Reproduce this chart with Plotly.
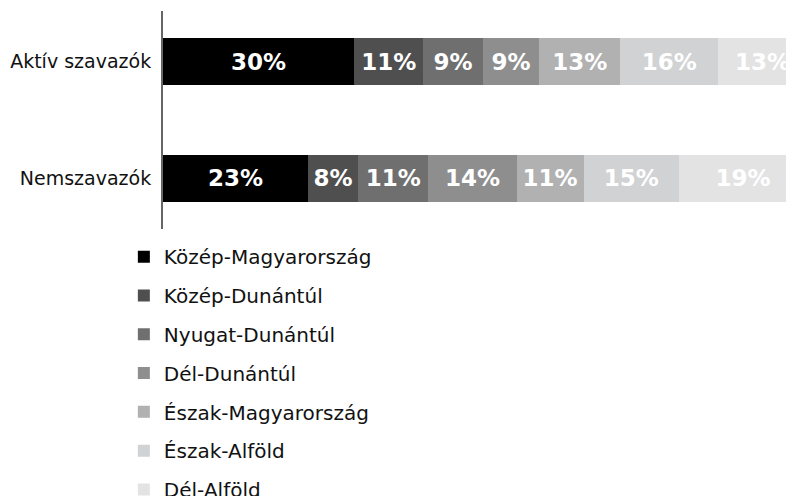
import plotly.graph_objects as go

categories = ["Nemszavazók", "Aktív szavazók"]
regions = ["Közép-Magyarország", "Közép-Dunántúl", "Nyugat-Dunántúl", "Dél-Dunántúl",
           "Észak-Magyarország", "Észak-Alföld", "Dél-Alföld"]
# values per region: [Nemszavazók, Aktív szavazók]
values = [
    [22.5, 29.7],
    [7.8, 10.7],
    [10.9, 9.3],
    [13.7, 8.7],
    [10.4, 12.6],
    [14.8, 15.2],
    [19.9, 13.8],
]
labels = [
    ["23%", "30%"],
    ["8%", "11%"],
    ["11%", "9%"],
    ["14%", "9%"],
    ["11%", "13%"],
    ["15%", "16%"],
    ["19%", "13%"],
]
colors = ["#000000", "#4f4f50", "#6f6f70", "#8e8e8f", "#b1b1b2", "#d1d2d3", "#e3e3e4"]

FONT = "DejaVu Sans"

fig = go.Figure()
for i, r in enumerate(regions):
    fig.add_trace(go.Bar(
        y=categories, x=values[i], name=r, orientation="h",
        marker=dict(color=colors[i], line=dict(width=0)),
        text=labels[i], textposition="inside", insidetextanchor="middle",
        textangle=0,
        textfont=dict(color="white", size=23, family=FONT, weight="bold"),
        constraintext="none", cliponaxis=True,
        legendgroup=r, hoverinfo="skip",
    ))

fig.update_layout(
    barmode="stack",
    width=799, height=496,
    margin=dict(l=155, r=0, t=3, b=275, autoexpand=False),
    paper_bgcolor="white", plot_bgcolor="white",
    bargap=0.6,
    font=dict(family=FONT, size=19, color="#111111"),
    showlegend=True,
    legend=dict(
        orientation="v", xref="container", yref="container",
        x=0.145, y=0.538, xanchor="left", yanchor="top",
        traceorder="grouped", tracegroupgap=9.8,
        maxheight=1000,
        font=dict(size=20, family=FONT, color="#111111"),
        itemclick=False, itemdoubleclick=False,
    ),
    xaxis=dict(range=[0, 100], visible=False, fixedrange=True),
    yaxis=dict(
        type="category", range=[-0.432, 1.432],
        showline=True, linecolor="#666666", linewidth=2,
        ticks="", showgrid=False, ticklabelstandoff=6,
        tickfont=dict(size=19, family=FONT, color="#111111"),
    ),
)

fig.write_html("out.html")
